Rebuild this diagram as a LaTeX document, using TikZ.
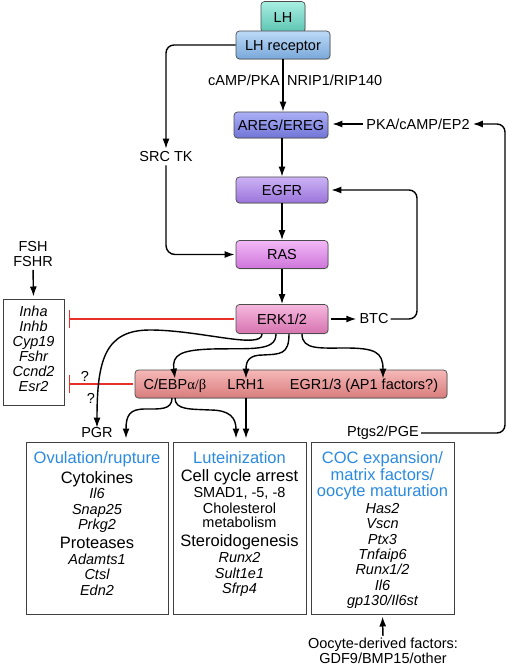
\documentclass[tikz,border=0pt]{standalone}
\usepackage{fontspec}
\setmainfont{Liberation Sans}
\newfontfamily\grk{Liberation Serif}
\usetikzlibrary{arrows.meta,shadows}
\definecolor{lhT}{HTML}{A8EFE2}\definecolor{lhB}{HTML}{5CC4B2}
\definecolor{lhrT}{HTML}{BCDAF6}\definecolor{lhrB}{HTML}{7AA8DA}
\definecolor{aregT}{HTML}{ACB0F6}\definecolor{aregB}{HTML}{7074D6}
\definecolor{egfrT}{HTML}{CCB2F6}\definecolor{egfrB}{HTML}{9A74DA}
\definecolor{rasT}{HTML}{F2B8F6}\definecolor{rasB}{HTML}{CE76DA}
\definecolor{erkT}{HTML}{F6B8DE}\definecolor{erkB}{HTML}{D674B0}
\definecolor{tfT}{HTML}{F6B8B8}\definecolor{tfB}{HTML}{D87C7C}
\definecolor{blu}{HTML}{2A8AE0}
\definecolor{inhred}{HTML}{E8302A}
\newcommand{\headf}{\fontsize{16.5}{15.3}\selectfont}
\begin{document}
\begin{tikzpicture}[x=1pt,y=-1pt,
  every node/.style={font=\fontsize{14.5}{15.3}\selectfont, inner sep=0pt},
  sbox/.style={draw=black!70, line width=0.7pt, rounded corners=3.5pt,
    minimum width=92pt, minimum height=27pt, text height=10.4pt, text depth=0pt,
    drop shadow={opacity=0.35, shadow xshift=0.6pt, shadow yshift=-0.9pt}},
  arr/.style={-{Latex[length=10pt,width=7pt]}, line width=1.4pt},
  inh/.style={draw=inhred, color=inhred, line width=1.4pt, -{Bar[width=18pt,line width=1.4pt]}},
  gbox/.style={draw=black!75, line width=1pt},
  tf/.style={text height=10.4pt, text depth=0pt}
]
\useasboundingbox (0,0) rectangle (508,668);

% receptor cascade boxes
\node[sbox, top color=lhT, bottom color=lhB, minimum width=44pt, minimum height=31pt] (lh) at (283,17) {LH};
\node[sbox, top color=lhrT, bottom color=lhrB, minimum width=94pt, minimum height=28pt] (lhr) at (283,45) {LH receptor};
\node[sbox, top color=aregT, bottom color=aregB, minimum width=94pt, minimum height=26pt] (areg) at (281,125) {AREG/EREG};
\node[sbox, top color=egfrT, bottom color=egfrB, minimum height=26pt] (egfr) at (282,190) {EGFR};
\node[sbox, top color=rasT, bottom color=rasB, minimum height=28pt] (ras) at (282,254.5) {RAS};
\node[sbox, top color=erkT, bottom color=erkB, minimum height=29pt] (erk) at (282,319) {ERK1/2};
\node[sbox, top color=tfT, bottom color=tfB, minimum width=312pt, minimum height=28pt] (tfbox) at (291,384) {};
\node[tf] (cebp) at (175,384) {C/EBP{\grk α/β}};
\node[tf] (lrh) at (246,384) {LRH1};
\node[tf] (egr) at (364,384) {EGR1/3 (AP1 factors?)};

% labels
\node[anchor=east] (camp) at (280,80) {cAMP/PKA};
\node[anchor=west] (nrip) at (287,80) {NRIP1/RIP140};
\node (srctk) at (166,157) {SRC TK};
\node (pka) at (418,124) {PKA/cAMP/EP2};
\node (btc) at (374,319) {BTC};
\node[align=center] (fsh) at (33,254) {FSH\\FSHR};
\node (q1) at (85,376) {?};
\node (q2) at (91,398) {?};
\node (pgr) at (97,433) {PGR};
\node (ptgs) at (383,433) {Ptgs2/PGE};
\node[align=center] (oocyte) at (383,651) {Oocyte-derived factors:\\GDF9/BMP15/other};

% left gene box
\node[gbox, minimum width=61pt, minimum height=106pt] (lbox) at (33.5,352) {};
\node[align=center, font=\fontsize{14.5}{15}\selectfont\itshape] (lgenes) at (33.5,349) {Inha\\Inhb\\Cyp19\\Fshr\\Ccnd2\\Esr2};

% bottom boxes
\node[gbox, minimum width=142pt, minimum height=172pt] (box1) at (97,528) {};
\node[gbox, minimum width=133pt, minimum height=172pt] (box2) at (239.5,528) {};
\node[gbox, minimum width=143pt, minimum height=172pt] (box3) at (382.5,528) {};

\node[anchor=north, align=center] (t1) at (97,451.5) {%
  {\headf\color{blu}Ovulation/rupture}\\[3pt]
  {\headf Cytokines}\\[0.5pt]
  \itshape Il6\\ \itshape Snap25\\ \itshape Prkg2\\[4pt]
  {\headf Proteases}\\[0.5pt]
  \itshape Adamts1\\ \itshape Ctsl\\ \itshape Edn2};
\node[anchor=north, align=center] (t2) at (239.5,451.5) {%
  {\headf\color{blu}Luteinization}\\[3pt]
  {\headf Cell cycle arrest}\\[0.5pt]
  SMAD1, -5, -8\\ Cholesterol\\[-1pt] metabolism\\[4pt]
  {\headf Steroidogenesis}\\[1pt]
  \itshape Runx2\\ \itshape Sult1e1\\ \itshape Sfrp4};
\node[anchor=north, align=center] (t3) at (382.5,451.5) {%
  {\headf\color{blu}COC expansion/}\\[0.5pt]
  {\headf\color{blu}matrix factors/}\\[0.5pt]
  {\headf\color{blu}oocyte maturation}\\[2pt]
  \itshape Has2\\ \itshape Vscn\\ \itshape Ptx3\\ \itshape Tnfaip6\\ \itshape Runx1/2\\ \itshape Il6\\ \itshape gp130/Il6st};

% inhibitions
\draw[inh, shorten <=2pt, shorten >=4pt] (erk.west) -- (lbox.east |- erk.west);
\draw[inh, shorten <=2pt, shorten >=4pt] (tfbox.west) -- (lbox.east |- tfbox.west);

% main cascade arrows
\draw[arr] (lhr.south) -- (lhr.south |- areg.north);
\draw[arr] (areg.south -| egfr.north) -- (egfr.north);
\draw[arr] (egfr.south) -- (ras.north);
\draw[arr] (ras.south) -- (erk.north);

% SRC TK branch
\draw[arr, rounded corners=8pt, shorten >=3pt] (lhr.west) -- (166,45) -- (srctk.north);
\draw[arr, rounded corners=9pt, shorten <=3pt, shorten >=1pt] (srctk.south) -- (166,254.5) -- (ras.west);

% PKA feedback
\draw[arr, shorten <=3pt, shorten >=4pt] (pka.west) -- (areg.east |- pka.west);
\draw[arr, rounded corners=8pt, shorten <=2pt, shorten >=3pt] (ptgs.east) -- (505,433) -- (505,124) -- (pka.east);

% BTC loop
\draw[arr, shorten <=3pt, shorten >=3pt] (erk.east) -- (btc.west);
\draw[arr, rounded corners=8pt, shorten <=2pt, shorten >=3pt] (btc.east) -- (417,319) -- (417,190) -- (egfr.east);

% FSH
\draw[arr, shorten <=3pt, shorten >=2pt] (fsh.south) -- (lbox.north);

% ERK to transcription factors
\draw[arr] (262,334) .. controls (262,350) and (200,330) .. (150,330) .. controls (105,330) and (97,360) .. (pgr.north);
\draw[arr] (276,334) .. controls (276,352) and (250,348) .. (212,349) .. controls (180,350) and (172,355) .. (cebp.north);
\draw[arr] (289,334) .. controls (289,355) and (280,354) .. (263,355) .. controls (250,355) and (246,360) .. (lrh.north);
\draw[arr] (302,334) .. controls (302,350) and (320,348) .. (345,348) .. controls (375,348) and (383,352) .. (egr.north -| 383,370);

% to bottom boxes
\draw[arr, shorten >=3pt] (172,398) .. controls (172,410) and (160,409) .. (145,409) .. controls (130,409) and (126,415) .. (box1.north -| 126,442);
\draw[arr, shorten >=3pt] (175,398) .. controls (175,410) and (190,409) .. (210,410) .. controls (230,410) and (236,418) .. (box2.north -| 236,442);
\draw[arr, shorten >=3pt] (lrh |- tfbox.south) -- (lrh |- box2.north);

% oocyte
\draw[arr, shorten <=2pt, shorten >=2pt] (oocyte.north) -- (box3.south);
\end{tikzpicture}
\end{document}
